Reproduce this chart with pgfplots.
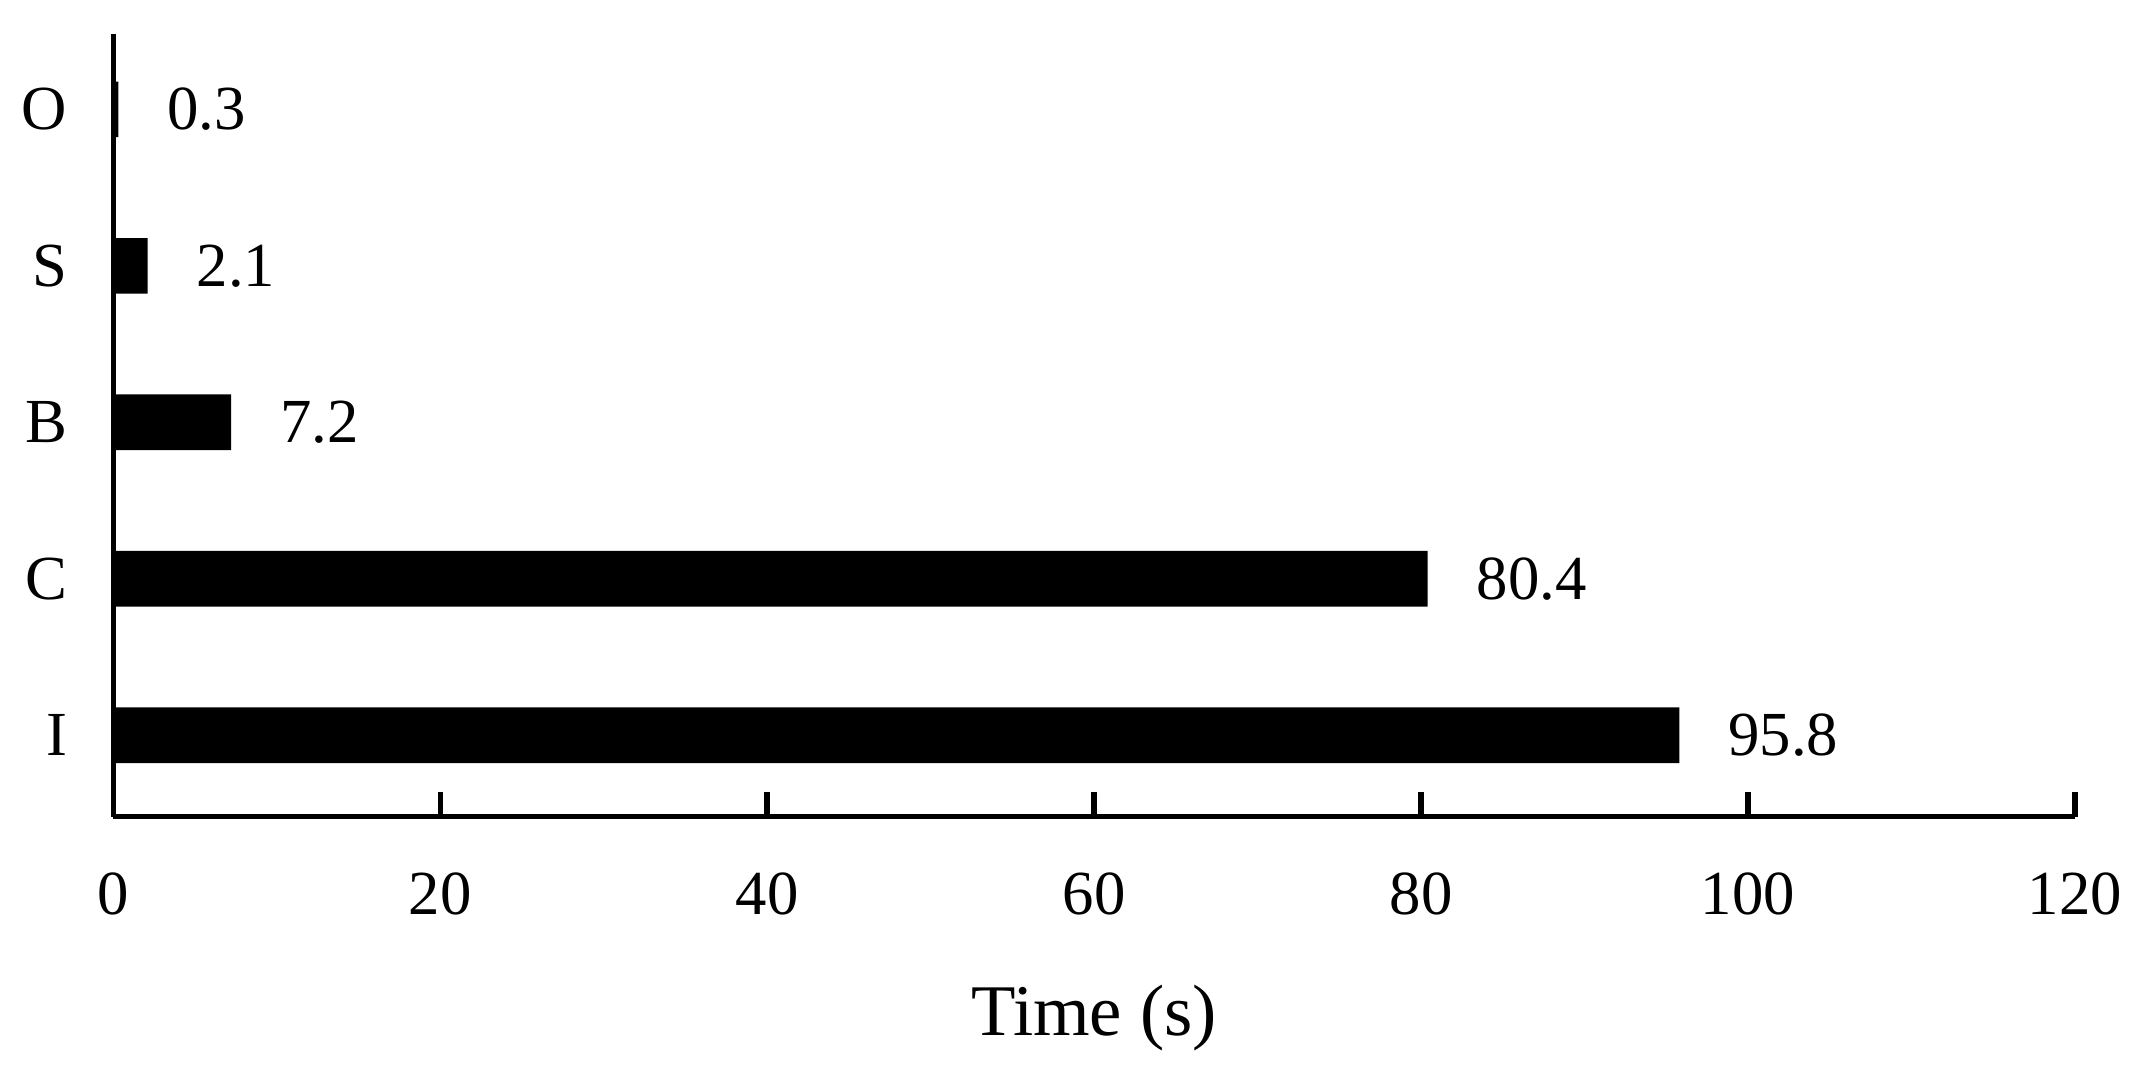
\documentclass[border=0pt]{standalone}
\usepackage{fontspec}
\setmainfont{Liberation Serif}
\usepackage{pgfplots}
\pgfplotsset{compat=1.18}

\begin{document}
\begin{tikzpicture}
\begin{axis}[
    xbar,
    width=13.74cm, height=5.48cm,
    scale only axis,
    xmin=0, xmax=120,
    ymin=-0.52, ymax=4.48,
    xtick={0,20,...,120},
    ytick={0,1,2,3,4},
    yticklabels={I,C,B,S,O},
    axis x line=bottom,
    axis y line=left,
    axis line style={line width=1.1pt, -},
    x axis line style={-},
    y axis line style={-},
    xtick style={line width=1.1pt, black},
    tick align=inside,
    major tick length=0.17cm,
    ytick style={draw=none},
    bar width=0.39cm,
    /pgf/number format/assume math mode=true,
    tick label style={font=\fontsize{12.5}{14}\selectfont},
    xticklabel style={yshift=-0.27cm},
    yticklabel style={xshift=-0.2cm},
    xlabel={Time (s)},
    xlabel style={font=\fontsize{14.5}{16}\selectfont, yshift=-0.25cm},
    nodes near coords,
    nodes near coords style={anchor=west, xshift=0.22cm, font=\fontsize{12.5}{14}\selectfont,
        /pgf/number format/.cd, fixed, precision=1, assume math mode=true},
    clip=false,
]
\addplot[fill=black, draw=none] coordinates {
    (95.8,0) (80.4,1) (7.2,2) (2.1,3) (0.3,4)
};
\end{axis}
\path (-0.794,-1.79) rectangle (14.21,5.72);
\end{tikzpicture}
\end{document}
